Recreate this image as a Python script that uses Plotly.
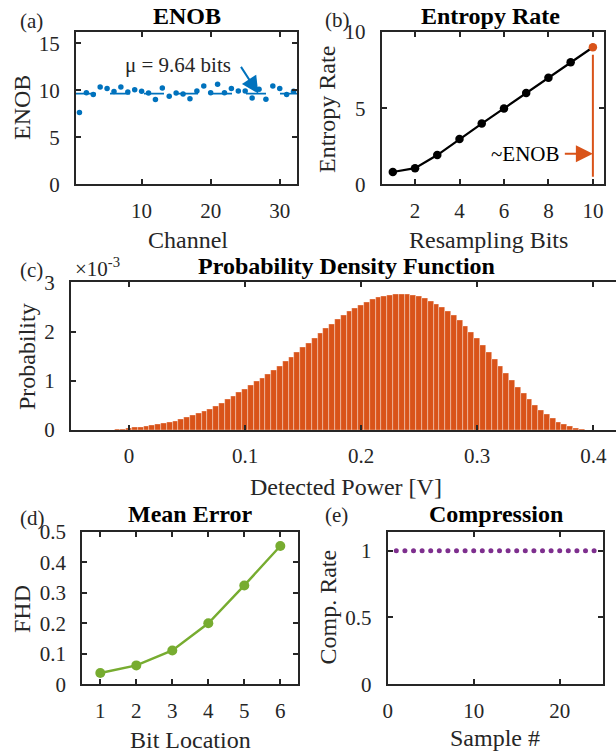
import numpy as np
import plotly.graph_objects as go

# ---------------- data ----------------
channels = list(range(1, 33))
enob = [7.64, 9.75, 9.54, 10.35, 10.18, 9.86, 10.35, 9.82, 10.07, 9.89, 9.72, 9.01,
        10.24, 9.36, 9.72, 9.6, 9.1, 9.93, 10.46, 9.75, 10.64, 9.75, 10.18, 9.93,
        9.93, 9.18, 10.1, 9.05, 10.46, 10.18, 9.54, 9.89]
enob_mean = 9.64

resampling_bits = [1, 2, 3, 4, 5, 6, 7, 8, 9, 10]
entropy_rate = [0.81, 1.06, 1.92, 2.97, 3.99, 4.98, 5.99, 7.0, 8.02, 9.0]
enob_marker_range = [0.5, 8.5]   # extent of the ~ENOB marker line
enob_arrow_level = 2.0

pdf_start, pdf_step = -0.01, 0.005
pdf_vals_e3 = [0.005, 0.01, 0.03, 0.045, 0.06, 0.075, 0.09, 0.11, 0.13, 0.155,
               0.18, 0.21, 0.25, 0.29, 0.33, 0.38, 0.43, 0.49, 0.55, 0.62,
               0.69, 0.76, 0.83, 0.90, 0.98, 1.06, 1.14, 1.22, 1.30, 1.39,
               1.48, 1.57, 1.67, 1.77, 1.87, 1.96, 2.06, 2.15, 2.24, 2.33,
               2.41, 2.48, 2.54, 2.60, 2.65, 2.69, 2.72, 2.745, 2.76, 2.765,
               2.76, 2.74, 2.71, 2.67, 2.62, 2.56, 2.49, 2.41, 2.32, 2.22,
               2.11, 1.99, 1.86, 1.72, 1.58, 1.44, 1.29, 1.15, 1.01, 0.87,
               0.74, 0.62, 0.50, 0.40, 0.31, 0.23, 0.16, 0.11, 0.07, 0.04, 0.015]
pdf_x = [pdf_start + i * pdf_step for i in range(len(pdf_vals_e3))]
pdf_y = [v * 1e-3 for v in pdf_vals_e3]

bit_location = [1, 2, 3, 4, 5, 6]
fhd = [0.037, 0.062, 0.111, 0.200, 0.324, 0.453]

sample_no = [1, 2, 3, 4, 5, 6, 7, 8, 9, 10, 11, 12, 13, 14, 15, 16, 17, 18, 19, 20, 21, 22, 23, 24]
comp_rate = [1, 1, 1, 1, 1, 1, 1, 1, 1, 1, 1, 1, 1, 1, 1, 1, 1, 1, 1, 1, 1, 1, 1, 1]

# ---------------- style ----------------
W, H = 616, 756
BLUE = "#0072BD"
ORANGE = "#D95319"
GREEN = "#77AC30"
PURPLE = "#7E2F8E"
AX = "#262626"
FONT = "Liberation Serif"
TICK = 21
LAB = 24


def px(x):
    return x / W


def py(y):
    return 1 - y / H


fig = go.Figure()

# (a) ENOB
fig.add_trace(go.Scatter(x=[0.5, 32.5], y=[enob_mean, enob_mean], mode="lines",
                         line=dict(color=BLUE, width=1.6, dash="20px,14px"),
                         xaxis="x", yaxis="y", showlegend=False))
fig.add_trace(go.Scatter(x=channels, y=enob, mode="markers",
                         marker=dict(color=BLUE, size=5.5),
                         xaxis="x", yaxis="y", showlegend=False))

# (b) Entropy rate
fig.add_trace(go.Scatter(x=[resampling_bits[-1]] * 2, y=enob_marker_range, mode="lines",
                         line=dict(color=ORANGE, width=2),
                         xaxis="x2", yaxis="y2", showlegend=False))
fig.add_trace(go.Scatter(x=resampling_bits, y=entropy_rate, mode="lines+markers",
                         line=dict(color="black", width=2.2),
                         marker=dict(color=["black"] * 9 + [ORANGE], size=8.5),
                         xaxis="x2", yaxis="y2", showlegend=False))

# (c) PDF
fig.add_trace(go.Bar(x=pdf_x, y=pdf_y, width=pdf_step,
                     marker=dict(color=ORANGE, line=dict(color="rgba(255,255,255,0.55)", width=0.6)),
                     xaxis="x3", yaxis="y3", showlegend=False))

# (d) Mean error
fig.add_trace(go.Scatter(x=bit_location, y=fhd, mode="lines+markers",
                         line=dict(color=GREEN, width=2.4),
                         marker=dict(color=GREEN, size=10),
                         xaxis="x4", yaxis="y4", showlegend=False))

# (e) Compression
fig.add_trace(go.Scatter(x=sample_no, y=comp_rate, mode="markers",
                         marker=dict(color=PURPLE, size=5),
                         xaxis="x5", yaxis="y5", showlegend=False))


def axis(domain, rng, tickvals, ticktext=None, anchor=None, mirror="ticks", standoff=8):
    d = dict(domain=domain, range=rng, tickvals=tickvals, showgrid=False, zeroline=False,
             showline=True, linecolor=AX, linewidth=2, mirror=mirror,
             ticks="inside", ticklen=5, tickwidth=2, tickcolor=AX,
             tickfont=dict(family=FONT, size=TICK, color=AX), automargin=False,
             ticklabelstandoff=standoff, anchor=anchor, fixedrange=True)
    if ticktext is not None:
        d["ticktext"] = ticktext
    return d


ya = [py(184.3), py(32)]
yc = [py(430), py(282.3)]
yd = [py(684.3), py(531.7)]

fig.update_layout(
    template="none",
    width=W, height=H, margin=dict(l=0, r=0, t=0, b=0, pad=0), autosize=False,
    paper_bgcolor="white", plot_bgcolor="white", bargap=0,
    xaxis=axis([px(76), px(297)], [0.5, 32.5], [10, 20, 30], anchor="y", standoff=6),
    yaxis=axis(ya, [0, 16.2], [0, 5, 10, 15], anchor="x", standoff=10),
    xaxis2=axis([px(381.7), px(604)], [0.5, 10.5], [2, 4, 6, 8, 10], anchor="y2", standoff=6),
    yaxis2=axis(ya, [0, 10], [0, 5, 10], anchor="x2", standoff=10),
    xaxis3=axis([px(71), 1.0], [-0.05, 0.4196], [0, 0.1, 0.2, 0.3, 0.4],
                ["0", "0.1", "0.2", "0.3", "0.4"], anchor="y3", standoff=6),
    yaxis3=axis(yc, [0, 3e-3], [0, 1e-3, 2e-3, 3e-3], ["0", "1", "2", "3"],
                anchor="x3", mirror=False, standoff=10),
    xaxis4=axis([px(82.3), px(298.3)], [0.5, 6.5], [1, 2, 3, 4, 5, 6], anchor="y4", standoff=6),
    yaxis4=axis(yd, [0, 0.5], [0, 0.1, 0.2, 0.3, 0.4, 0.5],
                ["0", "0.1", "0.2", "0.3", "0.4", "0.5"], anchor="x4", standoff=10),
    xaxis5=axis([px(387.7), px(602.7)], [0, 25], [0, 10, 20], anchor="y5", standoff=6),
    yaxis5=axis(yd, [0, 1.142], [0, 0.5, 1], ["0", "0.5", "1"], anchor="x5", standoff=10),
)

ann = []


def txt(x, y, s, size=LAB, bold=False, color=AX, angle=0, xanchor="center", yanchor="middle"):
    ann.append(dict(x=px(x), y=py(y), xref="paper", yref="paper", text=s, showarrow=False,
                    font=dict(family=FONT, size=size, color=color), textangle=angle,
                    xanchor=xanchor, yanchor=yanchor))


# titles
txt(186.7, 16, "<b>ENOB</b>", color="black")
txt(490.8, 16, "<b>Entropy Rate</b>", color="black")
txt(346, 266, "<b>Probability Density Function</b>", color="black")
txt(190, 514, "<b>Mean Error</b>", color="black")
txt(495.8, 514, "<b>Compression</b>", color="black")

# panel letters
txt(18, 21, "(a)", size=TICK, xanchor="left")
txt(323, 20, "(b)", size=TICK, xanchor="left")
txt(18, 270, "(c)", size=TICK, xanchor="left")
txt(18, 518, "(d)", size=TICK, xanchor="left")
txt(323, 515, "(e)", size=TICK, xanchor="left")

# axis labels
txt(188, 240, "Channel")
txt(22, 108, "ENOB", angle=-90)
txt(488, 240, "Resampling Bits")
txt(327, 110, "Entropy Rate", angle=-90)
txt(345.5, 487, "Detected Power [V]")
txt(27, 357, "Probability", angle=-90)
txt(190, 740, "Bit Location")
txt(22, 609, "FHD", angle=-90)
txt(495, 738, "Sample #")
txt(327, 607.5, "Comp. Rate", angle=-90)

# exponent label
txt(73, 268, "×10<sup>-3</sup>", size=TICK, xanchor="left")

# (a) mean annotation
ann.append(dict(x=26.9, y=9.65, ax=24.25, ay=12.65, xref="x", yref="y", axref="x", ayref="y",
                showarrow=True, arrowhead=2, arrowsize=1.7, arrowwidth=2, arrowcolor=BLUE, text=""))
ann.append(dict(x=23.3, y=12.65, xref="x", yref="y", text="μ = 9.64 bits", showarrow=False,
                xanchor="right", yanchor="middle", font=dict(family=FONT, size=TICK, color=AX)))

# (b) ~ENOB annotation
ann.append(dict(x=resampling_bits[-1], y=enob_arrow_level, ax=8.67, ay=enob_arrow_level,
                xref="x2", yref="y2", axref="x2", ayref="y2",
                showarrow=True, arrowhead=2, arrowsize=1.7, arrowwidth=2, arrowcolor=ORANGE, text=""))
ann.append(dict(x=8.62, y=enob_arrow_level, xref="x2", yref="y2", text="~ENOB", showarrow=False,
                xanchor="right", yanchor="middle", font=dict(family=FONT, size=TICK, color="black")))

fig.update_layout(annotations=ann)
fig.write_html("out.html", config={"displayModeBar": False},
               post_script="document.body.style.margin='0';document.body.style.padding='0';")
